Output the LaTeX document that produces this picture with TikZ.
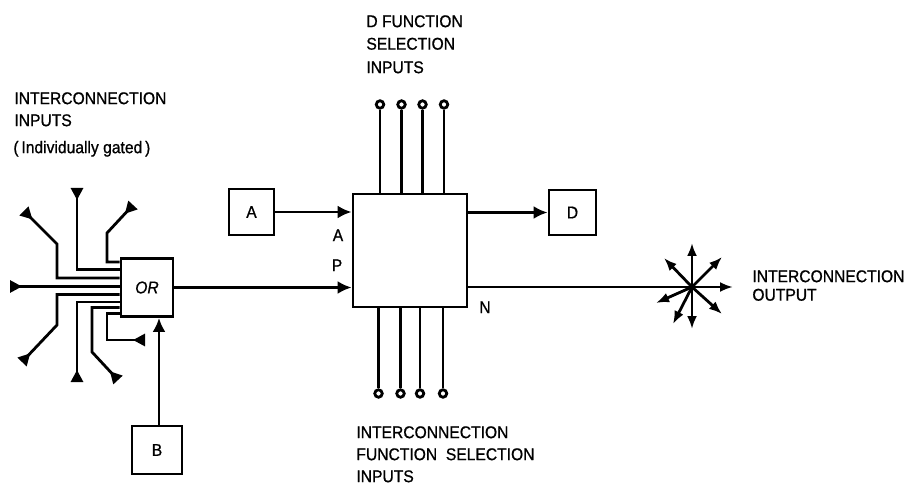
\documentclass[tikz,border=0pt]{standalone}
\usepackage{fontspec}
\setmainfont{Liberation Sans}
\newfontfamily\lblfam[FakeBold=0.8,FakeStretch=0.92]{Liberation Sans}
\usetikzlibrary{arrows.meta}
\newcommand\lblfont{\lblfam\fontsize{17}{20}\selectfont}
\begin{document}
\begin{tikzpicture}[x=1pt,y=-1pt,line width=2.8pt,
  box/.style={draw, inner sep=0, font=\lblfont},
  bigarrow/.style={-{Latex[length=14pt,width=13pt]}},
  inarrow/.style={{Triangle[reversed,length=12pt,width=12pt]}-},
  outarrow/.style={-{Latex[length=13pt,width=10pt]}},
  termcirc/.style={draw, circle, minimum size=7.5pt, inner sep=0, fill=white},
  txt/.style={anchor=west, inner sep=0, font=\lblfont, text height=12.3pt, text depth=0pt},
  lbl/.style={inner sep=0, font=\lblfont, text height=12.3pt, text depth=0pt}
]
\fill[white] (0,0) rectangle (908,489);
\useasboundingbox (0,0) rectangle (908,489);

% boxes
\node[box, minimum width=114pt, minimum height=113pt] (main) at (410,250.5) {};
\node[box, minimum width=45pt, minimum height=46pt] (A) at (251.5,212) {A};
\node[box, minimum width=47pt, minimum height=45pt] (D) at (572.5,212.5) {D};
\node[box, minimum width=52pt, minimum height=58pt] (OR) at (147,287.5) {\itshape OR};
\node[box, minimum width=50pt, minimum height=48pt] (B) at (157,450) {B};

% main connectors
\draw[bigarrow] (A.east) -- (A.east -| main.west);
\draw[bigarrow] (OR.east) -- (OR.east -| main.west);
\draw[bigarrow] (main.east |- D.west) -- (D.west);
\draw[bigarrow] ([xshift=2pt]B.north) -- ([xshift=2pt]B.north |- OR.south);

% pin labels
\node[lbl] (labA) at (338,235) {A};
\node[lbl] (labP) at (337,265) {P};
\node[lbl] (labN) at (485,307) {N};

% top selection inputs
\foreach \i/\x in {1/380,2/401.5,3/422.5,4/444}{
  \node[termcirc] (t\i) at (\x,104.5) {};
  \draw (t\i) -- (t\i |- main.north);
}
% bottom selection inputs
\foreach \i/\x in {1/378.5,2/400.5,3/420,4/443}{
  \node[termcirc] (b\i) at (\x,393.5) {};
  \draw (b\i) -- (b\i |- main.south);
}

% OR inputs
\coordinate (i1) at (133,205);
\coordinate (i2) at (77,188);
\coordinate (i3) at (24,211);
\coordinate (i4) at (10,286.5);
\coordinate (i5) at (22,362);
\coordinate (i6) at (77,382);
\coordinate (i7) at (118,380);
\coordinate (i8) at (145,340);
\draw[inarrow] (i1) -- (107,233) -- (107,262) -- (OR.west |- 0,262);
\draw[inarrow] (i2) -- (77,269.5) -- (OR.west |- 0,269.5);
\draw[inarrow] (i3) -- (57,244) -- (57,278) -- (OR.west |- 0,278);
\draw[inarrow] (i4) -- (OR.west |- 0,286.5);
\draw[inarrow] (i5) -- (57,325) -- (57,294.5) -- (OR.west |- 0,294.5);
\draw[inarrow] (i6) -- (77,302) -- (OR.west |- 0,302);
\draw[inarrow] (i7) -- (92,352) -- (92,307.5) -- (OR.west |- 0,307.5);
\draw[inarrow] (i8) -- (107,340) -- (107,313.5) -- (OR.west |- 0,313.5);

% output star
\coordinate (star) at (692,287);
\draw (main.east |- star) -- (star);
\draw[outarrow] (star) -- ++(0,-44);
\draw[outarrow] (star) -- ++(30,-30);
\draw[outarrow] (star) -- ++(-28,-29);
\draw[outarrow] (star) -- ++(41,0);
\draw[outarrow] (star) -- ++(30,27);
\draw[outarrow] (star) -- ++(0,42);
\draw[outarrow] (star) -- ++(-19,37);
\draw[outarrow] (star) -- ++(-36,16);

% texts
\node[txt] (l1) at (13,98) {INTERCONNECTION};
\node[txt] (l2) at (13,120) {INPUTS};
\node[txt] (l3) at (12,147) {(\,Individually gated\,)};
\node[txt] (d1) at (365,21) {D FUNCTION};
\node[txt] (d2) at (365,43.5) {SELECTION};
\node[txt] (d3) at (365,67) {INPUTS};
\node[txt] (f1) at (355,432) {INTERCONNECTION};
\node[txt] (f2) at (355,454) {FUNCTION\ \ SELECTION};
\node[txt] (f3) at (355,476) {INPUTS};
\node[txt] (o1) at (751,276) {INTERCONNECTION};
\node[txt] (o2) at (751,294.5) {OUTPUT};
\end{tikzpicture}
\end{document}
